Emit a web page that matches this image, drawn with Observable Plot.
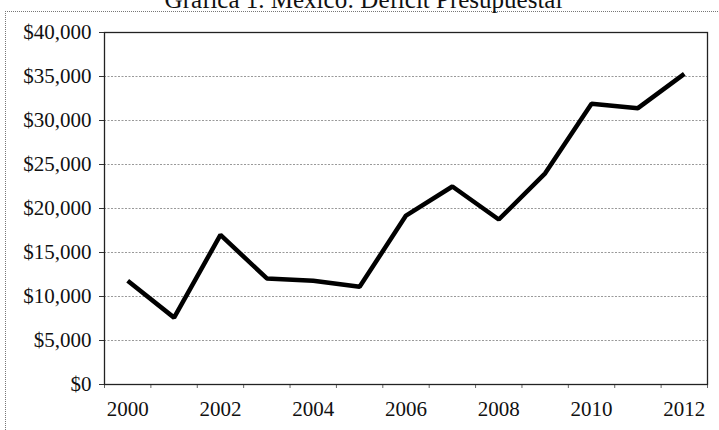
<!DOCTYPE html>
<html>
<head>
<meta charset="utf-8">
<script src="https://cdn.jsdelivr.net/npm/d3@7"></script>
<script src="https://cdn.jsdelivr.net/npm/@observablehq/plot@0.6"></script>
<style>
  html, body { margin: 0; padding: 0; background: #fff; }
  #wrap { position: relative; width: 719px; height: 430px; overflow: hidden; background: #fff; }
  #title {
    position: absolute; left: 4px; width: 719px; top: -13px;
    text-align: center; font-family: "Liberation Serif", "Times New Roman", serif;
    font-size: 25px; color: #111; line-height: 25px;
  }
  #box {
    position: absolute; left: 5px; top: 11px; width: 730px; height: 440px;
    border-left: 1px dotted #777; border-top: 1px dotted #777;
  }
  #chart { position: absolute; left: 0; top: 0; }
</style>
</head>
<body>
<div id="wrap">
  <div id="box"></div>
  <div id="title">Gráfica 1. México: Déficit Presupuestal</div>
  <div id="chart"></div>
</div>
<script>
// Budget deficit by year
const years = [2000, 2001, 2002, 2003, 2004, 2005, 2006, 2007, 2008, 2009, 2010, 2011, 2012];
const deficit = [11800, 7600, 17000, 12050, 11800, 11100, 19200, 22500, 18750, 24000, 31900, 31400, 35300];
const yTicks = [0, 5000, 10000, 15000, 20000, 25000, 30000, 35000, 40000];
const xLabels = [2000, 2002, 2004, 2006, 2008, 2010, 2012];

const data = years.map((year, i) => ({year, value: deficit[i]}));
// category boundaries for the small tick marks on the x axis
const boundaries = years.map(y => y - 0.5).concat([years[years.length - 1] + 0.5]);

const money = d => "$" + d3.format(",")(d);

const chart = Plot.plot({
  width: 719,
  height: 430,
  marginLeft: 104,
  marginRight: 12,
  marginTop: 32,
  marginBottom: 46,
  style: {fontFamily: "'Liberation Serif', 'Times New Roman', serif", fontSize: "21px", color: "#111", background: "transparent"},
  x: {domain: [1999.5, 2012.5]},
  y: {domain: [0, 40000]},
  marks: [
    Plot.gridY(yTicks, {stroke: "#555", strokeOpacity: 0.6, strokeDasharray: "2,1.5", strokeWidth: 1}),
    Plot.axisY({ticks: yTicks, tickFormat: money, tickSize: 5, tickPadding: 8, label: null, stroke: "#333"}),
    Plot.axisX({ticks: boundaries, tickSize: 4, tickFormat: () => "", label: null, stroke: "#666"}),
    Plot.axisX({ticks: xLabels, tickSize: 0, tickPadding: 17, tickFormat: d => String(d), label: null}),
    Plot.frame({stroke: "#222", strokeWidth: 1.3}),
    Plot.line(data, {x: "year", y: "value", stroke: "#000", strokeWidth: 4.5, strokeLinejoin: "miter", strokeLinecap: "butt"})
  ]
});
document.getElementById("chart").appendChild(chart);
</script>
</body>
</html>
